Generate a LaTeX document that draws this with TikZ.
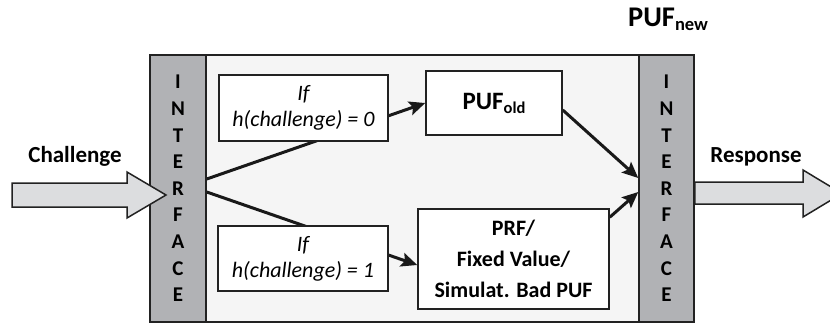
\documentclass[tikz,border=0pt]{standalone}
\usepackage{fontspec}
\setmainfont{Carlito}
\usetikzlibrary{arrows.meta}
\pgfdeclarelayer{bgzero}
\pgfdeclarelayer{bgone}
\pgfsetlayers{bgzero,bgone,main}
\definecolor{outerfill}{HTML}{F5F5F5}
\definecolor{ifacefill}{HTML}{B1B2B5}
\definecolor{arrowfill}{HTML}{DCDDDF}
\definecolor{edgecol}{HTML}{222222}
\begin{document}
\begin{tikzpicture}[x=1pt,y=-1pt,
  ifacebar/.style={draw=edgecol, line width=1.5pt, fill=ifacefill, minimum height=267pt, inner sep=0pt, align=center, font=\bfseries\fontsize{21}{26.6}\selectfont},
  boxnode/.style={draw=edgecol, line width=1.5pt, fill=white, inner sep=0pt, align=center},
  flow/.style={line width=3pt, draw=black!90, -{Stealth[length=16pt,width=14pt,inset=3pt]}},
  bigarrow/.style={draw=edgecol, line width=1.5pt, fill=arrowfill, line join=miter},
  lbl/.style={font=\bfseries\fontsize{23}{23}\selectfont, anchor=base, inner sep=0pt}
]
\path[use as bounding box] (0,0) rectangle (830,325);
\clip (0,0) rectangle (830,325);

% outer box
\begin{pgfonlayer}{bgzero}
\node[draw=edgecol, line width=2pt, fill=outerfill, minimum width=544pt, minimum height=267pt, inner sep=0pt] (outer) at (422,188.5) {};
\end{pgfonlayer}

% interface bars
\node[ifacebar, minimum width=56pt] (ifL) at (178,188.5) {I\\N\\T\\E\\R\\F\\A\\C\\E};
\node[ifacebar, minimum width=55pt] (ifR) at (666.5,188.5) {I\\N\\T\\E\\R\\F\\A\\C\\E};

% boxes
\node[boxnode, minimum width=169pt, minimum height=66pt, font=\itshape\fontsize{22}{26}\selectfont] (hzero) at (303.5,108) {If\\h(challenge) = 0};
\node[boxnode, minimum width=170pt, minimum height=65pt, font=\itshape\fontsize{22}{26}\selectfont] (hone) at (303,258.5) {If\\h(challenge) = 1};
\node[boxnode, minimum width=136pt, minimum height=64pt, font=\bfseries\fontsize{25}{25}\selectfont] (pold) at (494,103) {PUF\raisebox{-4pt}{\fontsize{16.5}{16.5}\selectfont old}};
\node[boxnode, minimum width=191pt, minimum height=100pt, font=\bfseries\fontsize{22}{31}\selectfont] (prf) at (513.5,259) {PRF/\\Fixed Value/\\Simulat. Bad PUF};

% connectors
\begin{pgfonlayer}{bgone}
\draw[flow] ([yshift=9.5pt]ifL.east) -- (pold.west);
\draw[flow] ([yshift=-3.5pt]ifL.east) -- ([yshift=-6pt]prf.west);
\draw[flow] ([yshift=-7pt]pold.east) -- ([yshift=10.5pt]ifR.west);
\draw[flow] ([yshift=-9pt]prf.north east) -- ([yshift=-3.5pt]ifR.west);
\end{pgfonlayer}

% big arrows
\coordinate (ctip) at (166,195);
\draw[bigarrow] (12,183) -- (127,183) -- (127,172) -- (ctip) -- (127,218) -- (127,207) -- (12,207) -- cycle;
\coordinate (rtip) at (842,193.5);
\draw[bigarrow] (ifR.east |- 0,182) -- (803,182) -- (803,170) -- (rtip) -- (803,217) -- (803,204) -- (ifR.east |- 0,204) -- cycle;

% labels
\node[lbl] (chal) at (75,162) {Challenge};
\node[lbl] (resp) at (756,162) {Response};
\node[lbl, anchor=base west, font=\bfseries\fontsize{28.5}{28.5}\selectfont] (pnew) at (628,26) {PUF\raisebox{-4pt}{\fontsize{18.5}{18.5}\selectfont new}};
\end{tikzpicture}
\end{document}
